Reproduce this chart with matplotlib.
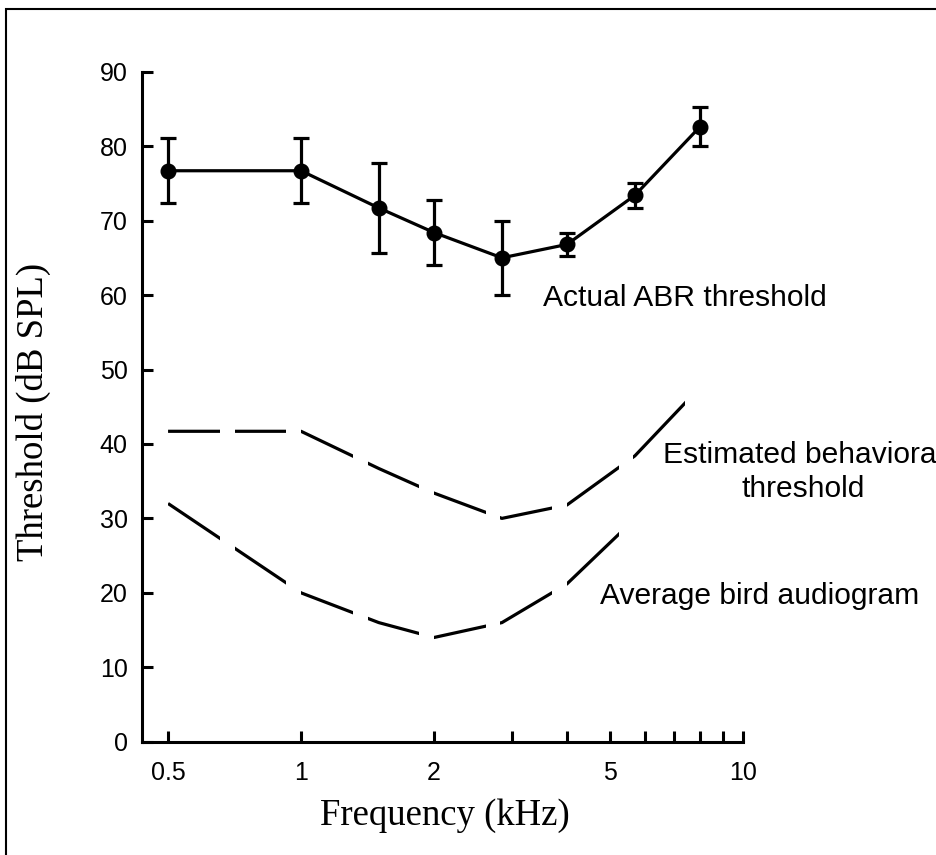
import numpy as np
import matplotlib
matplotlib.use("Agg")
import matplotlib.pyplot as plt
from matplotlib.path import Path
from matplotlib.patches import Rectangle
from matplotlib.ticker import NullLocator

# ---------------- data ----------------
abr_freq = [0.5, 1.0, 1.5, 2.0, 2.85, 4.0, 5.7, 8.0]
abr_mean = [76.7, 76.7, 71.7, 68.4, 65.0, 66.8, 73.4, 82.6]
abr_err = [4.4, 4.4, 6.0, 4.4, 5.0, 1.6, 1.7, 2.6]

est_freq = [0.5, 1.0, 1.5, 2.0, 2.85, 4.0, 5.7, 8.0]
est_thr = [41.7, 41.7, 36.7, 33.4, 30.0, 31.8, 38.4, 47.6]

aud_freq = [0.5, 1.0, 1.5, 2.0, 2.85, 4.0, 5.6]
aud_thr = [32.0, 20.0, 16.0, 14.0, 16.0, 21.2, 29.5]

xtick_vals = [0.5, 1, 2, 3, 4, 5, 6, 7, 8, 9, 10]
xtick_labels = ["0.5", "1", "2", "", "", "5", "", "", "", "", "10"]
ytick_vals = [0, 10, 20, 30, 40, 50, 60, 70, 80, 90]

SANS = "Liberation Sans"
SERIF = "Liberation Serif"

fig = plt.figure(figsize=(9.36, 8.55), dpi=100)
ax = fig.add_axes([0.1514, 0.1325, 0.6421, 0.7836])

LW = 2.3
ax.errorbar(abr_freq, abr_mean, yerr=abr_err, color="black", lw=LW,
            marker="o", markersize=10.5, elinewidth=LW, capsize=5.8,
            capthick=LW, zorder=3)

est_line, = ax.plot(est_freq, est_thr, color="black", lw=LW, solid_capstyle="butt")
aud_line, = ax.plot(aud_freq, aud_thr, color="black", lw=LW, solid_capstyle="butt")

# dash style: one dash per half octave (inked fraction of each step)
DASH_START = 0.5
DASH_STEP = np.sqrt(2)
DASH_FILL = 0.78
DASH_LAST = 7.9
verts, codes = [], []
f = DASH_START
while f < DASH_LAST:
    f2 = f * DASH_STEP ** DASH_FILL
    verts += [(f, -5), (f2, -5), (f2, 95), (f, 95), (f, -5)]
    codes += [Path.MOVETO, Path.LINETO, Path.LINETO, Path.LINETO, Path.CLOSEPOLY]
    f *= DASH_STEP
dash_clip = Path(verts, codes)
for ln in (est_line, aud_line):
    ln.set_clip_path(dash_clip, ax.transData)

ax.set_xscale("log")
ax.set_xlim(0.4358, 10)
ax.set_ylim(0, 90)
ax.set_xticks(xtick_vals)
ax.set_xticklabels(xtick_labels)
ax.xaxis.set_minor_locator(NullLocator())
ax.set_yticks(ytick_vals)

for s in ("top", "right"):
    ax.spines[s].set_visible(False)
for s in ("left", "bottom"):
    ax.spines[s].set_linewidth(2.2)

ax.tick_params(axis="both", direction="in", length=7.8, width=2.2,
               labelsize=18)
ax.tick_params(axis="x", pad=14)
ax.tick_params(axis="y", pad=10)
for lab in ax.get_xticklabels() + ax.get_yticklabels():
    lab.set_fontfamily(SANS)

# annotations
TXT = 21.6
ax.text(3.53, 58.5, "Actual ABR threshold", fontsize=TXT, family=SANS,
        ha="left", va="baseline")
ax.text(13.69, 37.5, "Estimated behavioral", fontsize=TXT, family=SANS,
        ha="center", va="baseline", clip_on=False)
ax.text(13.69, 32.9, "threshold", fontsize=TXT, family=SANS,
        ha="center", va="baseline", clip_on=False)
ax.text(4.75, 18.46, "Average bird audiogram", fontsize=TXT, family=SANS,
        ha="left", va="baseline")

# axis titles
fig.text(444.7 / 936, 1 - 825 / 855, "Frequency (kHz)", fontsize=26.5,
         family=SERIF, ha="center", va="baseline")
fig.text(33 / 936, 1 - 412 / 855, "Threshold (dB SPL)", fontsize=26.5,
         family=SERIF, ha="center", va="center", rotation=90)

# outer frame
fig.add_artist(Rectangle((6 / 936, -0.05), 1.1, 1 - 9 / 855 + 0.05,
                         transform=fig.transFigure, fill=False,
                         edgecolor="black", lw=1.5))

fig.savefig("out.png", dpi=100)
